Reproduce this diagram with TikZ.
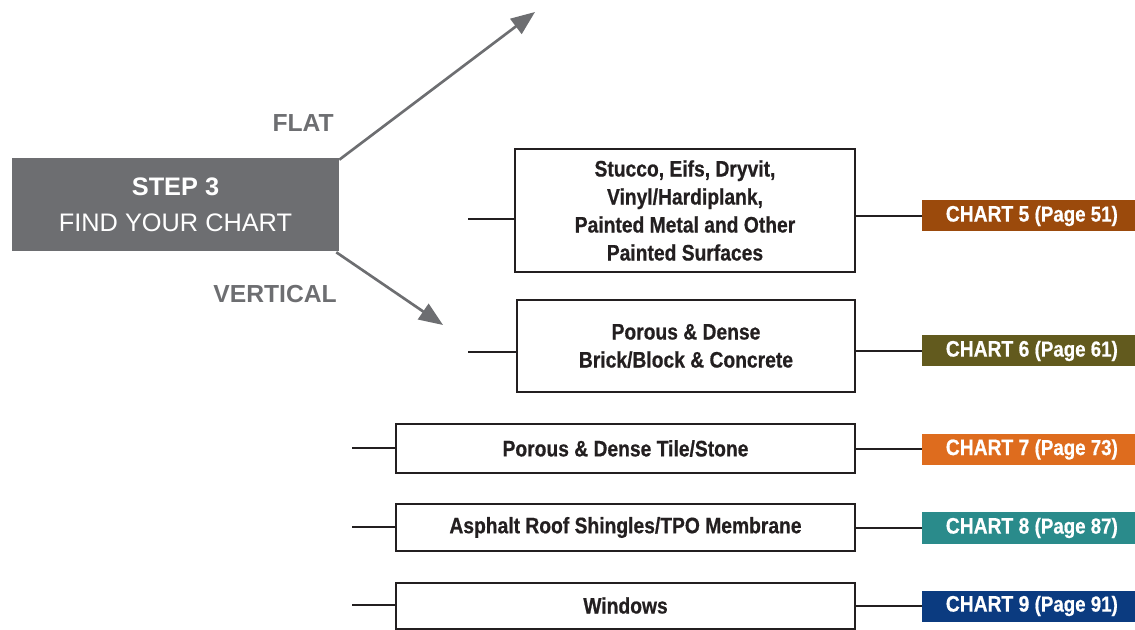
\documentclass[tikz,border=0pt]{standalone}
\usepackage{fontspec}
\setmainfont{Liberation Sans}
\newfontfamily\condfont[FakeStretch=0.86,FakeBold=0.6]{Liberation Sans}
\usetikzlibrary{arrows.meta}
\definecolor{stepgray}{HTML}{6D6E71}
\definecolor{inkblack}{HTML}{231F20}
\definecolor{cfive}{HTML}{9B4A0C}
\definecolor{csix}{HTML}{625A1E}
\definecolor{cseven}{HTML}{DE6C1E}
\definecolor{ceight}{HTML}{2A8B8B}
\definecolor{cnine}{HTML}{0B3B80}
\begin{document}
\begin{tikzpicture}[x=0.75pt,y=-0.75pt,
  surface/.style={draw=inkblack,line width=1.5pt,fill=white,inner sep=0pt,align=center,text=inkblack,
    font=\condfont\bfseries\fontsize{16.8}{21}\selectfont},
  chartbox/.style={fill=#1,inner sep=0pt,minimum width=159.75pt,minimum height=23.25pt,text=white,
    font=\condfont\bfseries\fontsize{16.8}{18}\selectfont},
  branchlabel/.style={anchor=east,text=stepgray,inner sep=0pt,font=\bfseries\fontsize{18.5}{22}\selectfont},
  link/.style={draw=inkblack,line width=1.5pt},
  branch/.style={draw=stepgray,line width=2pt,-{Triangle[length=18pt,width=14pt]}}]
\useasboundingbox (0,0) rectangle (1135,630);

% step box
\node[fill=stepgray,minimum width=245.25pt,minimum height=69.75pt,inner sep=0pt,align=center,text=white,
  font=\fontsize{19}{27}\selectfont] (step) at (175.5,204.5) {\textbf{STEP 3}\\FIND YOUR CHART};

\coordinate (flattip) at (535,12);
\coordinate (verttip) at (443,325);
\draw[branch] (step.north east) ++(0,2) -- (flattip);
\draw[branch] (step.south east) ++(-3,1) -- (verttip);
\node[branchlabel] (flat) at (334,123) {FLAT};
\node[branchlabel] (vertical) at (337,294) {VERTICAL};

% surface boxes
\node[surface,minimum width=255pt,minimum height=92.25pt] (b1) at (685,210.5)
  {Stucco, Eifs, Dryvit,\\Vinyl/Hardiplank,\\Painted Metal and Other\\Painted Surfaces};
\node[surface,minimum width=253.5pt,minimum height=69pt] (b2) at (686,346)
  {Porous \& Dense\\Brick/Block \& Concrete};
\node[surface,minimum width=344.25pt,minimum height=36.75pt] (b3) at (625.5,448.5)
  {Porous \& Dense Tile/Stone};
\node[surface,minimum width=344.25pt,minimum height=35.25pt] (b4) at (625.5,527.5)
  {Asphalt Roof Shingles/TPO Membrane};
\node[surface,minimum width=344.25pt,minimum height=34.5pt] (b5) at (625.5,605.5)
  {Windows};

% chart labels
\node[chartbox=cfive] (c5) at (1028.5,216) {\hspace*{5pt}CHART 5 {\fontsize{16.3}{18}\selectfont(Page 51)}};
\node[chartbox=csix] (c6) at (1028.5,351) {\hspace*{5pt}CHART 6 {\fontsize{16.3}{18}\selectfont(Page 61)}};
\node[chartbox=cseven] (c7) at (1028.5,449.5) {\hspace*{5pt}CHART 7 {\fontsize{16.3}{18}\selectfont(Page 73)}};
\node[chartbox=ceight] (c8) at (1028.5,528) {\hspace*{5pt}CHART 8 {\fontsize{16.3}{18}\selectfont(Page 87)}};
\node[chartbox=cnine] (c9) at (1028.5,606) {\hspace*{5pt}CHART 9 {\fontsize{16.3}{18}\selectfont(Page 91)}};

% left stubs
\coordinate (s1) at (468,219);
\coordinate (s2) at (468,352);
\coordinate (s3) at (352,448);
\coordinate (s4) at (352,527);
\coordinate (s5) at (352,605);
\draw[link] (s1) -- (s1 -| b1.west);
\draw[link] (s2) -- (s2 -| b2.west);
\draw[link] (s3) -- (s3 -| b3.west);
\draw[link] (s4) -- (s4 -| b4.west);
\draw[link] (s5) -- (s5 -| b5.west);

% right connectors
\draw[link] (c5.west -| b1.east) -- (c5.west);
\draw[link] (c6.west -| b2.east) -- (c6.west);
\draw[link] (c7.west -| b3.east) -- (c7.west);
\draw[link] (c8.west -| b4.east) -- (c8.west);
\draw[link] (c9.west -| b5.east) -- (c9.west);
\end{tikzpicture}
\end{document}
